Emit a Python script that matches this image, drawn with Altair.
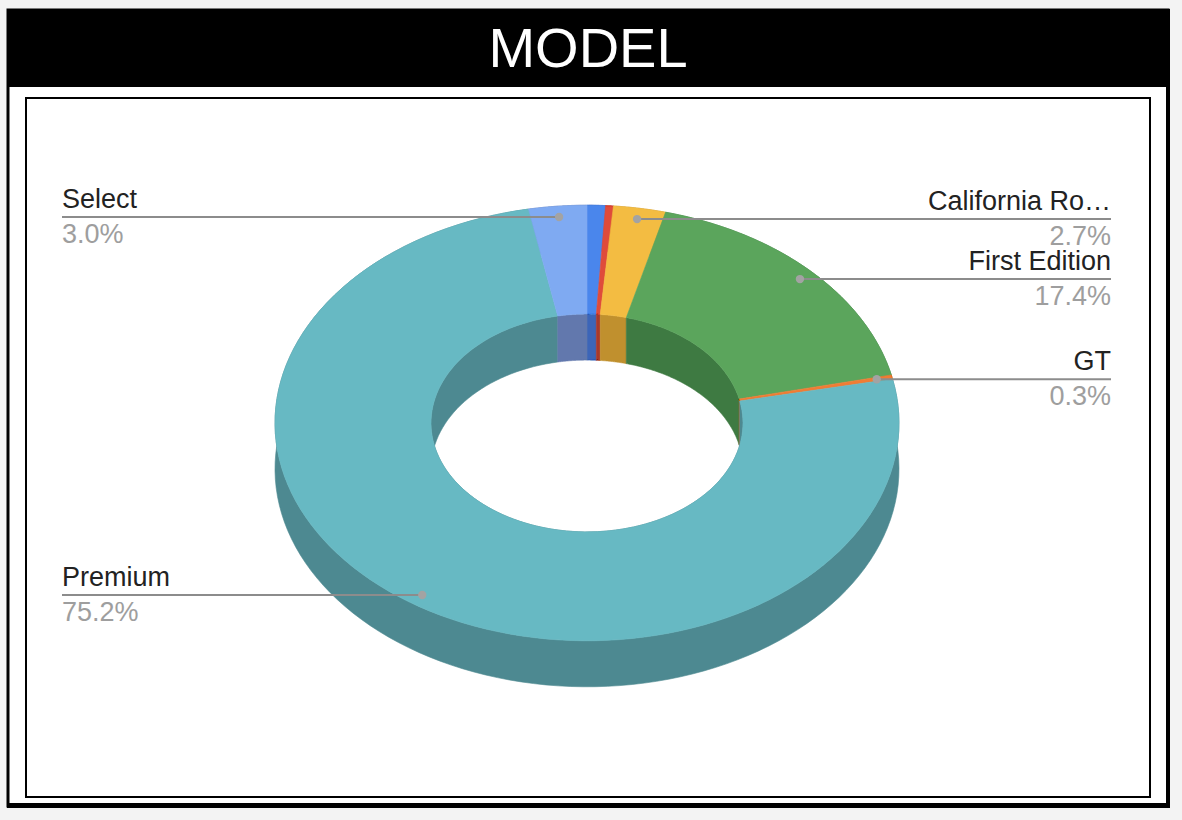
import altair as alt
import pandas as pd

# ---------------- data ----------------
title_text = "MODEL"
slice_names = ["Other 1", "Other 2", "California Ro…", "First Edition", "GT", "Premium", "Select"]
slice_values = [0.95, 0.4, 2.7, 17.4, 0.3, 75.2, 3.0]
slice_labels = ["", "", "California Ro…", "First Edition", "GT", "Premium", "Select"]

# ---------------- styles ----------------
top_colors = ["#4A86EC", "#DF4B3B", "#F3BC42", "#5BA55C", "#F07C34", "#67B9C3", "#7FAAF2"]
wall_colors = ["#3C65B8", "#A8382C", "#C0902E", "#3E7A42", "#B8602A", "#4D8991", "#6278AD"]

# ---------------- layout ----------------
W, H = 1182, 820
CX, CY, S = 587, 423, 312      # centre of the top face, pixels per unit radius
TILT = 217.8 / 312             # vertical squash of the 3D view
INNER = 0.5                    # hole radius relative to the outer radius
DEPTH = 46 / 312               # thickness of the donut
N = 120                        # points per arc
DOT_R = 0.95
LEFT_X = (62 - CX) / S
RIGHT_X = (1111 - CX) / S

x_scale = alt.Scale(domain=[-CX / S, (W - CX) / S], nice=False, zero=False)
y_scale = alt.Scale(domain=[(CY - H) / S, CY / S], nice=False, zero=False)

df = pd.DataFrame({
    "idx": list(range(len(slice_names))),
    "name": slice_names,
    "value": slice_values,
    "label": slice_labels,
})

base = alt.Chart(df).transform_window(
    cum="sum(value)", sort=[alt.SortField("idx")], frame=[None, 0]
).transform_joinaggregate(
    total="sum(value)"
).transform_calculate(
    a1="2*PI*datum.cum/datum.total"
).transform_calculate(
    a0="2*PI*(datum.cum-datum.value)/datum.total"
)


def polygon(kind, colors):
    if kind == "top":
        r_expr = f"datum.k < {N} ? 1 : {INNER}"
        z_expr = "0"
    elif kind == "outer":
        r_expr = "1"
        z_expr = f"datum.k < {N} ? 0 : {DEPTH}"
    else:
        r_expr = f"{INNER}"
        z_expr = f"datum.k < {N} ? 0 : {DEPTH}"
    cscale = alt.Scale(domain=slice_names, range=colors)
    return (
        base.transform_calculate(k=f"sequence(0, {2 * N})")
        .transform_flatten(["k"])
        .transform_calculate(f=f"datum.k < {N} ? datum.k/{N - 1} : ({2 * N - 1} - datum.k)/{N - 1}")
        .transform_calculate(t="datum.a0 + (datum.a1 - datum.a0)*datum.f")
        .transform_calculate(r=r_expr)
        .transform_calculate(z=z_expr)
        .transform_calculate(px="datum.r*sin(datum.t)")
        .transform_calculate(py=f"datum.r*cos(datum.t)*{TILT} - datum.z")
        .mark_line(interpolate="linear-closed", strokeWidth=0.6)
        .encode(
            x=alt.X("px:Q", scale=x_scale, axis=None),
            y=alt.Y("py:Q", scale=y_scale, axis=None),
            order=alt.Order("k:Q"),
            detail="name:N",
            fill=alt.Fill("name:N", scale=cscale, legend=None),
            stroke=alt.Stroke("name:N", scale=cscale, legend=None),
        )
    )


outer_walls = polygon("outer", wall_colors)
inner_walls = polygon("inner", wall_colors)
top_faces = polygon("top", top_colors)

lab = base.transform_filter("datum.label != ''").transform_calculate(
    mid="(datum.a0 + datum.a1)/2"
).transform_calculate(
    dotx=f"{DOT_R}*sin(datum.mid)",
    doty=f"{DOT_R}*cos(datum.mid)*{TILT}",
    side="sin(datum.mid) < 0 ? 'left' : 'right'",
    edge=f"sin(datum.mid) < 0 ? {LEFT_X} : {RIGHT_X}",
    pct="format(datum.value/datum.total, '.1%')",
)

rules = lab.mark_rule(color="#8c8c8c", strokeWidth=2).encode(
    x=alt.X("dotx:Q", scale=x_scale, axis=None),
    x2="edge:Q",
    y=alt.Y("doty:Q", scale=y_scale, axis=None),
)
dots = lab.mark_circle(size=70, color="#a3a3a3", opacity=1).encode(
    x=alt.X("dotx:Q", scale=x_scale, axis=None),
    y=alt.Y("doty:Q", scale=y_scale, axis=None),
)

text_layers = []
for side, align in [("left", "left"), ("right", "right")]:
    sub = lab.transform_filter(f"datum.side == '{side}'")
    enc = dict(
        x=alt.X("edge:Q", scale=x_scale, axis=None),
        y=alt.Y("doty:Q", scale=y_scale, axis=None),
    )
    text_layers.append(
        sub.mark_text(align=align, baseline="alphabetic", dy=-9, fontSize=27,
                      font="Liberation Sans", color="#222222").encode(text="label:N", **enc)
    )
    text_layers.append(
        sub.mark_text(align=align, baseline="alphabetic", dy=26, fontSize=27,
                      font="Liberation Sans", color="#9e9e9e").encode(text="pct:N", **enc)
    )

# ---------------- frame ----------------
dummy = alt.Chart(pd.DataFrame({"d": [0]}))
outer_box = dummy.mark_rect(fill="white", stroke="black", strokeWidth=3).encode(
    x=alt.value(8), x2=alt.value(1168), y=alt.value(10), y2=alt.value(806)
)
bottom_edge = dummy.mark_rect(fill="black").encode(
    x=alt.value(7), x2=alt.value(1170), y=alt.value(803), y2=alt.value(808)
)
right_edge = dummy.mark_rect(fill="black").encode(
    x=alt.value(1166), x2=alt.value(1170), y=alt.value(9), y2=alt.value(808)
)
header = dummy.mark_rect(fill="black").encode(
    x=alt.value(7), x2=alt.value(1170), y=alt.value(9), y2=alt.value(87)
)
inner_box = dummy.mark_rect(fill="white", stroke="black", strokeWidth=2).encode(
    x=alt.value(26), x2=alt.value(1150), y=alt.value(98), y2=alt.value(797)
)
title = dummy.mark_text(fontSize=56, font="Liberation Sans", color="white",
                        align="center", baseline="alphabetic").encode(
    x=alt.value(588), y=alt.value(67), text=alt.value(title_text)
)

chart = alt.layer(
    outer_box, bottom_edge, right_edge, header, inner_box, title,
    outer_walls, inner_walls, top_faces, rules, dots, *text_layers,
).resolve_scale(
    fill="independent", stroke="independent"
).properties(
    width=W, height=H, autosize=alt.AutoSizeParams(type="none"), padding=0,
    background="#f3f3f3",
).configure_view(stroke=None)

chart.save("out.html", embed_options={"renderer": "svg", "actions": False})
